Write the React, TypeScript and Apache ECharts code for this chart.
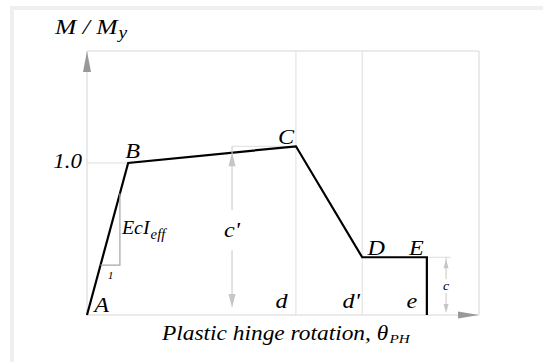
import React, { useEffect, useRef } from "react";
import * as echarts from "echarts";

// Generalised moment–rotation backbone of a plastic hinge
const pointNames = ["A", "B", "C", "D", "E", ""];
const rotation = [0, 10.5, 53.3, 70.2, 86.7, 86.7];
const momentRatio = [0, 1.0, 1.11, 0.38, 0.38, 0];

// Axis extents and the single labelled moment tick
const rotationMax = 100;
const momentMax = 1.737;
const momentTicks = [1.0];
const momentTickLabels = ["1.0"];

// Span labels along the rotation axis (placed left of C, D and E)
const spanLabels = ["d", "d'", "e"];
const spanAnchors = [2, 3, 4];

// Dimension arrows: c' (peak strength) and c (residual strength)
const peakArrowRotation = 37.0;
const residualArrowRotation = 91.6;

// Elastic stiffness triangle drawn on segment A–B
const stiffnessRun = [3.45, 8.4];

const SERIF = "'Liberation Serif', 'Times New Roman', serif";
const SX = 1.15;
const INK = "#000000";
const GUIDE = "#dedede";
const DIM = "#c6c6c6";

const fontOf = (size: number) => `italic ${size}px ${SERIF}`;

function textWidth(text: string, size: number) {
  const c = document.createElement("canvas").getContext("2d")!;
  c.font = fontOf(size);
  return c.measureText(text).width;
}

function label(text: string, x: number, y: number, size: number, align = "center", sx = SX) {
  return {
    type: "text",
    x,
    y,
    scaleX: sx,
    z: 20,
    style: {
      text,
      fill: INK,
      font: fontOf(size),
      align,
      verticalAlign: "middle",
    },
  };
}

// Main text followed by a lowered, smaller subscript
function labelSub(main: string, sub: string, x: number, y: number, size: number, subSize: number, dy: number, sx = SX) {
  const w = textWidth(main, size) * sx;
  return [label(main, x, y, size, "left", sx), label(sub, x + w + 1, y + dy, subSize, "left", sx)];
}

export default function App() {
  const ref = useRef<HTMLDivElement>(null);

  useEffect(() => {
    const chart = echarts.init(ref.current!, undefined, { renderer: "svg" });
    const pt = (i: number) => [rotation[i], momentRatio[i]];
    const seg = (a: number[], b: number[]) => ({
      type: "line",
      data: [a, b],
      symbol: "none",
      silent: true,
      lineStyle: { color: GUIDE, width: 1 },
      z: 1,
    });

    chart.setOption({
      animation: false,
      backgroundColor: "#ffffff",
      grid: {
        left: 87,
        top: 51,
        width: 392,
        height: 264,
        show: true,
        borderColor: "#d6d6d6",
        borderWidth: 1,
        backgroundColor: "transparent",
      },
      xAxis: {
        type: "value",
        min: 0,
        max: rotationMax,
        axisLine: { show: false },
        axisTick: { show: false },
        axisLabel: { show: false },
        splitLine: { show: false },
      },
      yAxis: {
        type: "value",
        min: 0,
        max: momentMax,
        axisLine: { show: false },
        axisTick: { show: false },
        axisLabel: { show: false },
        splitLine: { show: false },
      },
      series: [
        // guide lines at C and D, and the 1.0 level up to B
        seg([rotation[2], 0], [rotation[2], momentMax]),
        seg([rotation[3], 0], [rotation[3], momentMax]),
        seg([0, momentTicks[0]], pt(1)),
        seg([peakArrowRotation, momentRatio[2]], pt(2)),
        seg(pt(4), [residualArrowRotation + 1.2, momentRatio[4]]),
        {
          type: "line",
          data: rotation.map((_, i) => pt(i)),
          symbol: "none",
          silent: true,
          lineStyle: { color: "#000000", width: 2.2, join: "miter" },
          z: 5,
        },
      ],
    });

    const P = (x: number, y: number) => chart.convertToPixel({ gridIndex: 0 }, [x, y]) as number[];
    const g: any[] = [];

    // outer frame
    g.push({
      type: "rect",
      shape: { x: 12, y: 8, width: 700, height: 500 },
      style: { fill: "none", stroke: "#efefef", lineWidth: 4 },
      z: 0,
    });

    // axis arrowheads
    const yTip = P(0, momentMax);
    g.push({
      type: "polygon",
      shape: { points: [yTip, [yTip[0] - 4, yTip[1] + 21], [yTip[0] + 4, yTip[1] + 21]] },
      style: { fill: "#999999" },
      z: 10,
    });
    const xTip = P(rotationMax, 0);
    g.push({
      type: "polygon",
      shape: { points: [xTip, [xTip[0] - 21, xTip[1] - 3.5], [xTip[0] - 21, xTip[1] + 3.5]] },
      style: { fill: "#999999" },
      z: 10,
    });

    // vertical dimension arrow with a gap for its label
    const dimArrow = (xData: number, yTopData: number, text: string, size: number, head: number, half: number, gap: number, topInset: number, botInset: number) => {
      const top = P(xData, yTopData);
      const bot = P(xData, 0);
      const x = top[0];
      const t = top[1] + topInset;
      const b = bot[1] - botInset;
      const mid = (t + b) / 2;
      const line = (y1: number, y2: number) => ({
        type: "line",
        shape: { x1: x, y1, x2: x, y2 },
        style: { stroke: DIM, lineWidth: 1 },
        z: 9,
      });
      g.push(line(top[1], mid - gap), line(mid + gap, b - head));
      g.push({
        type: "polygon",
        shape: { points: [[x, t], [x - half, t + head], [x + half, t + head]] },
        style: { fill: DIM },
        z: 9,
      });
      g.push({
        type: "polygon",
        shape: { points: [[x, b], [x - half, b - head], [x + half, b - head]] },
        style: { fill: DIM },
        z: 9,
      });
      g.push(label(text, x, mid, size));
    };
    dimArrow(peakArrowRotation, momentRatio[2], "c'", 21, 14, 3.5, 20, 6, 7);
    dimArrow(residualArrowRotation, momentRatio[4], "c", 12, 9, 2.5, 7, 2, 2);

    // stiffness triangle on A–B
    const slope = momentRatio[1] / rotation[1];
    const t0 = P(stiffnessRun[0], stiffnessRun[0] * slope);
    const t1 = P(stiffnessRun[1], stiffnessRun[0] * slope);
    const t2 = P(stiffnessRun[1], stiffnessRun[1] * slope);
    g.push({
      type: "polyline",
      shape: { points: [t0, t1, t2] },
      style: { stroke: "#a6a6a6", lineWidth: 1.2, fill: "none" },
      z: 8,
    });
    g.push(label("1", (t0[0] + t1[0]) / 2 + 0.5, t1[1] + 10, 10));
    g.push(...labelSub("EcI", "eff", t1[0] + 2, (t1[1] + t2[1]) / 2 - 1.5, 19, 14, 6, 1.05));

    // point letters
    const offsets = [[14.5, -9.5], [4.5, -11.5], [-10, -9.5], [14, -9.5], [-10.5, -9.5]];
    offsets.forEach((o, i) => {
      const p = P(rotation[i], momentRatio[i]);
      g.push(label(pointNames[i], p[0] + o[0], p[1] + o[1], 21));
    });

    // span letters at the foot of C, D, E
    const spanOffsets = [-14.5, -11, -15];
    spanLabels.forEach((s, k) => {
      const p = P(rotation[spanAnchors[k]], 0);
      g.push(label(s, p[0] + spanOffsets[k], p[1] - 13.5, 21));
    });

    // moment tick label
    momentTickLabels.forEach((s, k) => {
      const p = P(0, momentTicks[k]);
      g.push(label(s, p[0] - 5, p[1] - 1.5, 20, "right"));
    });

    // axis titles
    g.push(...labelSub("M / M", "y", 55, 27, 21, 16, 6, 1.22));
    g.push(...labelSub("Plastic hinge rotation, θ", "PH", 162, 333.5, 20, 13, 5, 1.17));

    chart.setOption({ graphic: g });

    return () => chart.dispose();
  }, []);

  return (
    <div
      ref={ref}
      style={{ position: "fixed", left: 0, top: 0, width: 543, height: 362, background: "#ffffff" }}
    />
  );
}
